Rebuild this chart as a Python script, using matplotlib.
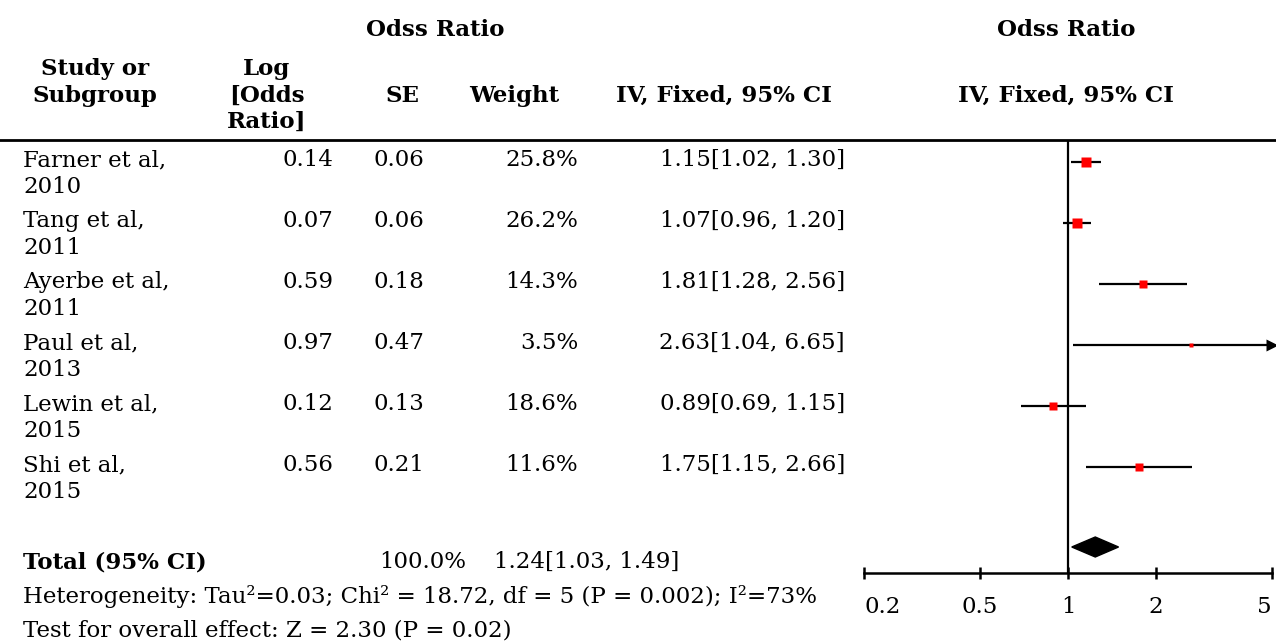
import numpy as np
import matplotlib.pyplot as plt
from matplotlib.lines import Line2D
from matplotlib.patches import Polygon


# study rows
authors = ["Farner et al,", "Tang et al,", "Ayerbe et al,",
           "Paul et al,", "Lewin et al,", "Shi et al,"]
years = ["2010", "2011", "2011", "2013", "2015", "2015"]
log_or = [0.14, 0.07, 0.59, 0.97, 0.12, 0.56]
se = [0.06, 0.06, 0.18, 0.47, 0.13, 0.21]
weight = [25.8, 26.2, 14.3, 3.5, 18.6, 11.6]
odds = [1.15, 1.07, 1.81, 2.63, 0.89, 1.75]
ci_lo = [1.02, 0.96, 1.28, 1.04, 0.69, 1.15]
ci_hi = [1.30, 1.20, 2.56, 6.65, 1.15, 2.66]

# pooled estimate
total_weight = 100.0
total_or = 1.24
total_lo = 1.03
total_hi = 1.49

heterogeneity = "Heterogeneity: Tau²=0.03; Chi² = 18.72, df = 5 (P = 0.002); I²=73%"
overall = "Test for overall effect: Z = 2.30 (P = 0.02)"

xticks = [0.2, 0.5, 1, 2, 5]
xticklabels = ["0.2", "0.5", "1", "2", "5"]

W, H = 1276, 643
FS = 16.5
FSB = 16.5

plt.rcParams['font.family'] = ["DejaVu Serif"]

fig = plt.figure(figsize=(W / 100, H / 100), dpi=100)


def txt(x, y, s, ha="left", bold=False):
    # x, y in pixels from top-left, y is the text baseline
    fig.text(x / W, 1 - y / H, s, ha=ha, va="baseline",
             fontsize=FSB if bold else FS,
             fontweight="bold" if bold else "normal")


# headers
txt(435, 36, "Odss Ratio", ha="center", bold=True)
txt(1066, 36, "Odss Ratio", ha="center", bold=True)
txt(95, 75, "Study or", ha="center", bold=True)
txt(95, 102, "Subgroup", ha="center", bold=True)
txt(267, 75, "Log", ha="center", bold=True)
txt(267, 102, "[Odds", ha="center", bold=True)
txt(267, 128, "Ratio]", ha="center", bold=True)
txt(402, 102, "SE", ha="center", bold=True)
txt(514, 102, "Weight", ha="center", bold=True)
txt(724, 102, "IV, Fixed, 95% CI", ha="center", bold=True)
txt(1066, 102, "IV, Fixed, 95% CI", ha="center", bold=True)

fig.add_artist(Line2D([0, 1], [1 - 140 / H] * 2, color="black", lw=2.0,
                      transform=fig.transFigure))

# table body
row_px0 = 162
row_dy = 61
for i in range(len(authors)):
    base = row_px0 + 4 + i * row_dy
    txt(23, base, authors[i])
    txt(23, base + 27, years[i])
    txt(333, base, f"{log_or[i]:.2f}", ha="right")
    txt(424, base, f"{se[i]:.2f}", ha="right")
    txt(578, base, f"{weight[i]:.1f}%", ha="right")
    txt(845, base, f"{odds[i]:.2f}[{ci_lo[i]:.2f}, {ci_hi[i]:.2f}]", ha="right")

txt(23, 568, "Total (95% CI)", bold=True)
txt(466, 568, f"{total_weight:.1f}%", ha="right")
txt(494, 568, f"{total_or:.2f}[{total_lo:.2f}, {total_hi:.2f}]")
txt(23, 603, heterogeneity)
txt(23, 636, overall)

# forest plot
ax_left, ax_right = 864, 1272
ax_top, ax_bot = 141, 573
ax = fig.add_axes([ax_left / W, 1 - ax_bot / H,
                   (ax_right - ax_left) / W, (ax_bot - ax_top) / H])
ax.set_xscale("log")
ax.set_xlim(xticks[0], xticks[-1])
ax.set_ylim((ax_bot - row_px0) / row_dy, (ax_top - row_px0) / row_dy)

ax.axvline(1, color="black", lw=1.6)
for i in range(len(authors)):
    hi = min(ci_hi[i], xticks[-1])
    ax.plot([ci_lo[i], hi], [i, i], color="black", lw=1.6, solid_capstyle="butt")
    ax.plot(odds[i], i, marker="s", color="red", mec="none",
            ms=1.5 * np.sqrt(weight[i]), zorder=3)
    if ci_hi[i] > xticks[-1]:
        ax.plot(hi, i, marker=">", color="black", ms=9, mec="none",
                clip_on=False, zorder=4)

dy = 10 / row_dy
yd = (547 - row_px0) / row_dy
ax.add_patch(Polygon([[total_lo, yd], [total_or, yd - dy], [total_hi, yd],
                      [total_or, yd + dy]], closed=True, color="black"))

for s in ["top", "right", "left"]:
    ax.spines[s].set_visible(False)
ax.spines["bottom"].set_linewidth(1.8)
ax.set_yticks([])
ax.set_xticks(xticks)
ax.set_xticklabels(xticklabels)
ax.xaxis.set_minor_locator(plt.NullLocator())
ax.tick_params(axis="x", direction="inout", length=9, width=1.8,
               labelsize=FS, pad=12)
labels = ax.get_xticklabels()
labels[0].set_ha("left")
labels[-1].set_ha("right")

fig.savefig("out.png", dpi=100)
